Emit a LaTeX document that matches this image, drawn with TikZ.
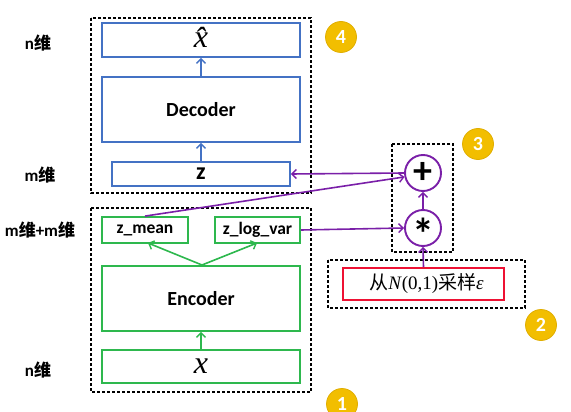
\documentclass[tikz,border=0pt]{standalone}
\usepackage{fontspec}
\setmainfont{Carlito}
\newfontfamily\cjk{Noto Sans CJK SC}
\newfontfamily\serifrm{Liberation Serif}
\usetikzlibrary{arrows.meta}
\definecolor{cblue}{HTML}{4472C4}
\definecolor{cgreen}{HTML}{2EB84E}
\definecolor{cred}{HTML}{EE1133}
\definecolor{cpurple}{HTML}{7A1FA8}
\definecolor{cgold}{HTML}{F2BE00}
\definecolor{cgoldd}{HTML}{E0AE00}
\begin{document}
\begin{tikzpicture}[x=1pt,y=-1pt,
  bluebox/.style={draw=cblue,line width=1.8pt,rectangle,inner sep=0pt},
  greenbox/.style={draw=cgreen,line width=1.8pt,rectangle,inner sep=0pt},
  dashbox/.style={draw=black,line width=1.1pt,dash pattern=on 3pt off 2pt},
  tip/.style={-{Straight Barb[length=4.5pt,width=9pt,line width=1.4pt]}},
  barrow/.style={tip,draw=cblue,line width=1.6pt},
  garrow/.style={tip,draw=cgreen,line width=1.6pt},
  parrow/.style={tip,draw=cpurple,line width=1.6pt},
  opcirc/.style={circle,draw=cpurple,line width=1.9pt,minimum size=36pt,inner sep=0pt},
  badge/.style={circle,fill=cgold,draw=cgoldd,line width=0.8pt,minimum size=31pt,inner sep=0pt,text=white,font=\fontsize{20}{20}\selectfont\bfseries},
  dimlabel/.style={font=\fontsize{17}{17}\selectfont\bfseries},
  boxtext/.style={font=\fontsize{20}{20}\selectfont\bfseries},
  smalltext/.style={font=\fontsize{17.5}{17.5}\selectfont\bfseries},
  mathx/.style={font=\fontsize{32}{32}\selectfont\serifrm\itshape}]
\useasboundingbox (0,0) rectangle (571,412);

% dashed groups
\draw[dashbox] (91,18) rectangle (311,193);
\draw[dashbox] (91,208) rectangle (311,392);
\draw[dashbox] (392,144) rectangle (453,252);
\draw[dashbox] (328,260) rectangle (525,308);

% dimension labels
\node[dimlabel] (l1) at (38,43) {n{\cjk\bfseries 维}};
\node[dimlabel] (l2) at (40,175) {m{\cjk\bfseries 维}};
\node[dimlabel] (l3) at (40,230) {m{\cjk\bfseries 维}+m{\cjk\bfseries 维}};
\node[dimlabel] (l4) at (38,370) {n{\cjk\bfseries 维}};

% decoder side
\node[bluebox,minimum width=198pt,minimum height=34pt] (xhat) at (201,40) {};
\node[mathx,inner sep=0pt,anchor=base] (xhatt) at (201,48) {\^{x}};
\node[bluebox,minimum width=198pt,minimum height=65pt,boxtext] (dec) at (201,109.5) {Decoder};
\node[bluebox,minimum width=178pt,minimum height=24pt,font=\fontsize{24}{24}\selectfont\bfseries] (z) at (201,174) {z};

% encoder side
\node[greenbox,minimum width=86pt,minimum height=26pt,smalltext] (zmean) at (145,230) {z\_mean};
\node[greenbox,minimum width=85pt,minimum height=26pt,smalltext] (zlv) at (257.5,230) {z\_log\_var};
\node[greenbox,minimum width=198pt,minimum height=65pt,boxtext] (enc) at (201,298.5) {Encoder};
\node[greenbox,minimum width=198pt,minimum height=33pt,mathx] (xin) at (201,366.5) {x};

% sampling
\node[opcirc] (plus) at (423,173) {\fontsize{38}{38}\selectfont\bfseries +};
\node[opcirc] (star) at (423,228) {};
\node[inner sep=0pt,anchor=base,font=\fontsize{44}{44}\selectfont\bfseries] (startxt) at (423,249) {*};
\node[draw=cred,line width=1.8pt,minimum width=161pt,minimum height=32pt,inner sep=0pt] (eps) at (423.5,284)
  {\hspace{6pt}\fontsize{19}{19}\selectfont{\cjk 从}\serifrm\textit{N}(0,1){\cjk 采样}\textit{ε}};

% badges
\node[badge] (b4) at (341,37) {4};
\node[badge] (b3) at (478,144) {3};
\node[badge] (b2) at (541,325) {2};
\node[badge] (b1) at (342,404) {1};

% arrows
\draw[garrow] (xin.north) -- (enc.south);
\coordinate (encTop) at (202,265);
\draw[garrow] (encTop) -- (148,243);
\draw[garrow] (encTop) -- (257,243);
\draw[barrow] (z.north) -- (dec.south);
\draw[barrow] (dec.north) -- (xhat.south);

\draw[parrow] (eps.north) -- (star.south);
\draw[parrow] (star.north) -- (plus.south);
\draw[parrow] (zlv.east) -- (star.west);
\draw[parrow] (zmean.north) -- (plus.192);
\draw[parrow] (plus.west) -- (z.east);
\end{tikzpicture}
\end{document}
